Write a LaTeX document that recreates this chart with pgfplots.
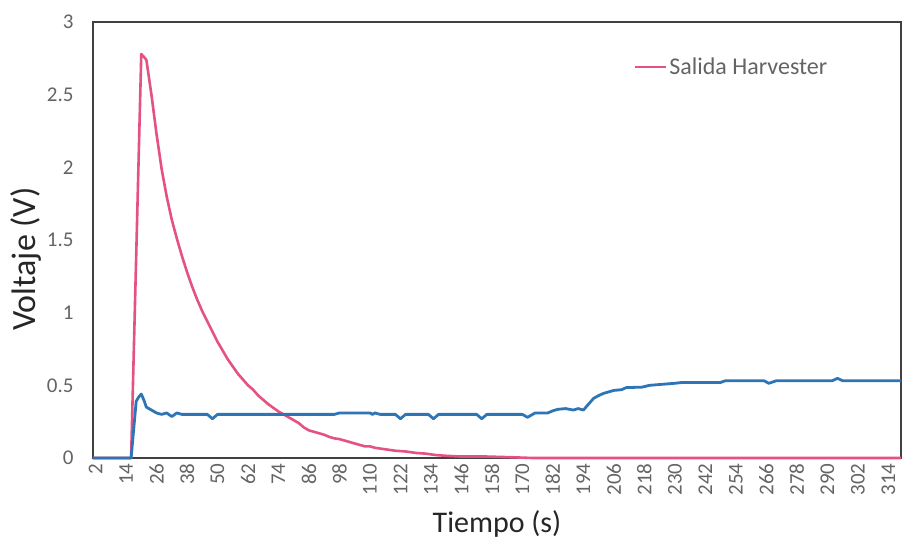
\documentclass[border=0pt]{standalone}
\usepackage{fontspec}
\setmainfont{Carlito}
\usepackage{pgfplots}
\pgfplotsset{compat=1.18}
\definecolor{pinkline}{RGB}{229,82,130}
\definecolor{blueline}{RGB}{46,117,182}
\definecolor{labgray}{RGB}{100,100,100}
\begin{document}
\begin{tikzpicture}
\begin{axis}[name=ax, scale only axis, width=808pt, height=436pt,
  xmin=1, xmax=319, ymin=0, ymax=3, clip=false,
  xtick={2,14,...,314},
  ytick={0,0.5,1,1.5,2,2.5,3},
  yticklabels={0,0.5,1,1.5,2,2.5,3},
  major tick length=0pt,
  axis line style={draw=black!75, line width=1.2pt},
  /pgf/number format/assume math mode=true,
  tick label style={font=\fontsize{21}{24}\selectfont, text=labgray},
  xticklabel style={rotate=90, anchor=east, xshift=-2pt},
  yticklabel style={anchor=east, xshift=-16pt},
  xlabel={Tiempo (s)}, ylabel={Voltaje (V)},
  xlabel style={at={(axis description cs:0.5,-0.152)}, anchor=center, font=\fontsize{30}{34}\selectfont, text=black!85},
  ylabel style={at={(axis description cs:-0.083,0.456)}, anchor=center, font=\fontsize{34}{38}\selectfont, text=black!85},
  legend style={at={(axis description cs:0.669,0.897)}, anchor=west, draw=none, fill=none,
    font=\fontsize{24}{28}\selectfont, text=labgray, inner sep=0pt, nodes={inner sep=2pt}},
  legend image code/.code={\draw[#1] (0pt,0pt) -- (31pt,0pt);},
]
\addplot[pinkline, line width=2.6pt, line join=round] coordinates {
(1,0) (16,0) (20,2.78) (22,2.74) (24,2.50) (26,2.23) (28,1.99) (30,1.80) (32,1.64) (34,1.51)
(36,1.39) (38,1.28) (40,1.18) (42,1.09) (44,1.01) (46,0.94) (48,0.87) (50,0.80) (52,0.74)
(54,0.68) (56,0.63) (58,0.58) (60,0.54) (62,0.50) (64,0.47) (66,0.43) (68,0.40) (70,0.37)
(72,0.345) (74,0.32) (76,0.30) (78,0.28) (80,0.26) (82,0.24) (84,0.21) (86,0.19) (88,0.18)
(90,0.17) (92,0.16) (94,0.145) (96,0.135) (98,0.13) (100,0.12) (102,0.11) (104,0.10)
(106,0.09) (108,0.08) (110,0.08) (112,0.07) (114,0.065) (116,0.06) (118,0.055) (120,0.05)
(124,0.045) (128,0.035) (132,0.03) (136,0.02) (140,0.015) (146,0.01) (156,0.01) (166,0.005)
(174,0) (319,0)
};
\addlegendentry{Salida Harvester}
\addplot[blueline, line width=2.8pt, line join=round, forget plot] coordinates {
(1,0) (16,0) (18,0.39) (19,0.42) (20,0.44) (21,0.40) (22,0.35) (24,0.33) (26,0.31) (28,0.30)
(30,0.31) (32,0.285) (34,0.31) (36,0.30) (46,0.30) (48,0.27) (50,0.30) (96,0.30) (98,0.31)
(110,0.31) (111,0.30) (112,0.31) (114,0.30) (120,0.30) (122,0.27) (124,0.30) (133,0.30)
(135,0.27) (137,0.30) (152,0.30) (154,0.27) (156,0.30) (170,0.30) (172,0.28) (175,0.31)
(180,0.31) (182,0.325) (184,0.335) (187,0.34) (190,0.33) (192,0.34) (194,0.33) (196,0.37)
(198,0.41) (200,0.43) (202,0.445) (206,0.465) (209,0.47) (211,0.485) (217,0.487) (220,0.50)
(225,0.507) (230,0.514) (233,0.52) (248,0.52) (250,0.532) (265,0.532) (267,0.514) (270,0.532)
(292,0.532) (294,0.548) (296,0.532) (319,0.532)
};
\end{axis}
\pgfresetboundingbox
\path ([xshift=-93pt,yshift=-84pt]ax.south west) rectangle ([xshift=1pt,yshift=22pt]ax.north east);
\end{tikzpicture}
\end{document}
